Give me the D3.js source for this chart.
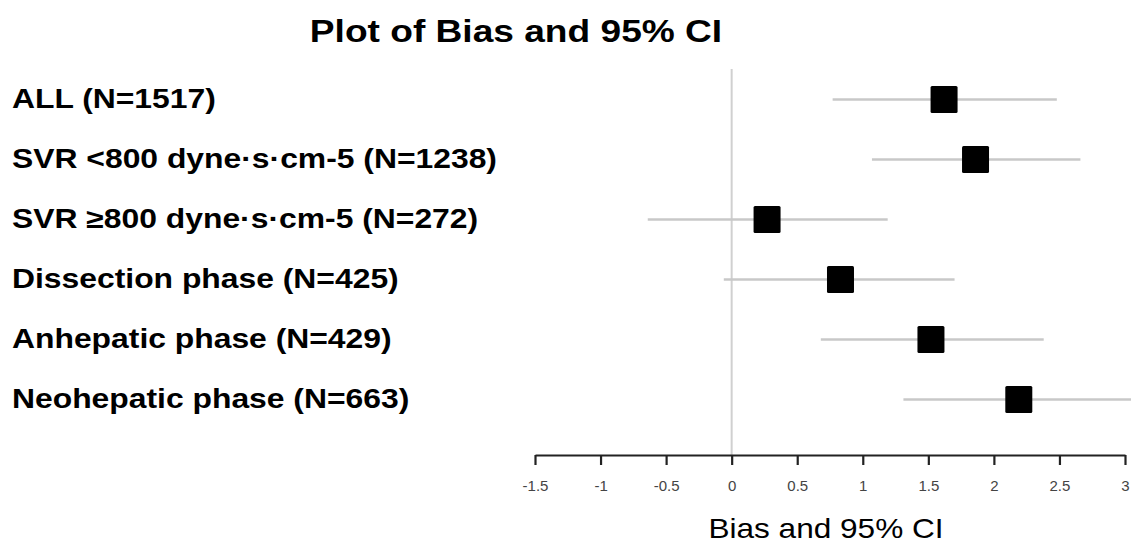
<!DOCTYPE html>
<html>
<head>
<meta charset="utf-8">
<script src="https://cdn.jsdelivr.net/npm/d3@7"></script>
<style>
  html, body { margin: 0; padding: 0; background: #fff; }
  svg { display: block; }
  text { font-family: "Liberation Sans", Arial, sans-serif; }
</style>
</head>
<body>
<svg id="chart" width="1131" height="543"></svg>
<script>
// ---- data ----
const categories = [
  "ALL (N=1517)",
  "SVR <800 dyne·s·cm-5 (N=1238)",
  "SVR ≥800 dyne·s·cm-5 (N=272)",
  "Dissection phase (N=425)",
  "Anhepatic phase (N=429)",
  "Neohepatic phase (N=663)"
];
const bias  = [1.62, 1.86, 0.27, 0.83, 1.52, 2.19];
const lower = [0.77, 1.07, -0.64, -0.06, 0.68, 1.31];
const upper = [2.48, 2.66, 1.19, 1.70, 2.38, 3.10];
const tickValues = [-1.5, -1, -0.5, 0, 0.5, 1, 1.5, 2, 2.5, 3];
const tickLabels = ["-1.5", "-1", "-0.5", "0", "0.5", "1", "1.5", "2", "2.5", "3"];
const titleText = "Plot of Bias and 95% CI";
const xTitle = "Bias and 95% CI";

// ---- drawing ----
const svg = d3.select("#chart");
const axisY = 455;

const x = d3.scaleLinear().domain([-1.5, 3]).range([535, 1125]);
const y = d3.scalePoint().domain(categories).range([99.5, 399.5]);

const rows = categories.map((c, i) => ({c, m: bias[i], lo: lower[i], hi: upper[i]}));

// zero reference line
svg.append("line")
  .attr("x1", x(0)).attr("x2", x(0))
  .attr("y1", 69).attr("y2", axisY)
  .attr("stroke", "#d0d0d0").attr("stroke-width", 2);

// CI lines
svg.selectAll("line.ci").data(rows).enter().append("line")
  .attr("class", "ci")
  .attr("x1", d => x(d.lo)).attr("x2", d => x(d.hi))
  .attr("y1", d => y(d.c)).attr("y2", d => y(d.c))
  .attr("stroke", "#c8c8c8").attr("stroke-width", 2.5);

// bias squares
const S = 27;
svg.selectAll("rect.pt").data(rows).enter().append("rect")
  .attr("class", "pt")
  .attr("x", d => x(d.m) - S / 2).attr("y", d => y(d.c) - S / 2)
  .attr("width", S).attr("height", S)
  .attr("rx", 1.5)
  .attr("fill", "#000");

// x axis
const axis = d3.axisBottom(x).tickValues(tickValues).tickSize(10).tickSizeOuter(0)
  .tickFormat((d, i) => tickLabels[i]);
const gx = svg.append("g").attr("transform", `translate(0,${axisY})`).call(axis);
gx.attr("font-size", 15);
gx.select(".domain").attr("stroke", "#222").attr("stroke-width", 2.2);
gx.selectAll(".tick line").attr("stroke", "#222").attr("stroke-width", 2.2);
gx.selectAll(".tick text")
  .attr("y", 0).attr("dy", null)
  .attr("transform", "translate(0,36)")
  .attr("fill", "#444")
  .style("font-size", "15px")
  .style("font-family", "'Liberation Sans', Arial, sans-serif");

// category labels
const lab = svg.append("g");
lab.selectAll("text").data(rows).enter().append("text")
  .attr("transform", d => `translate(12,${y(d.c) + 8}) scale(1.18,1)`)
  .attr("font-size", 27).attr("font-weight", "bold").attr("fill", "#000")
  .text(d => d.c);

// title
svg.append("text")
  .attr("transform", "translate(516,42) scale(1.16,1)")
  .attr("text-anchor", "middle")
  .attr("font-size", 32).attr("font-weight", "bold").attr("fill", "#000")
  .text(titleText);

// x axis title
svg.append("text")
  .attr("transform", "translate(826,538) scale(1.17,1)")
  .attr("text-anchor", "middle")
  .attr("font-size", 27).attr("fill", "#000")
  .text(xTitle);
</script>
</body>
</html>
